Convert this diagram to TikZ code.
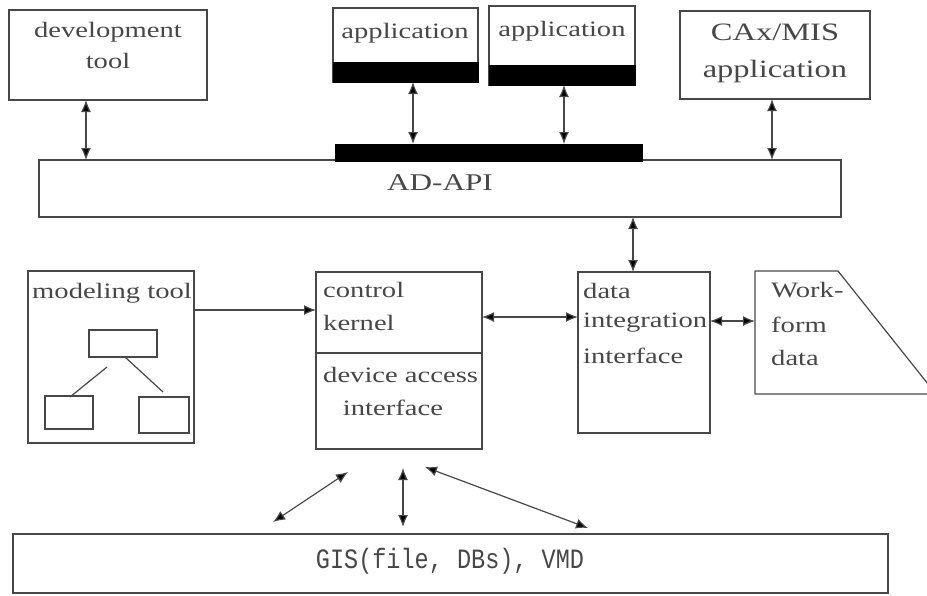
\documentclass[tikz,border=0pt]{standalone}
\usepackage{fontspec}
\usetikzlibrary{arrows.meta}
\newfontfamily\lblfont[FakeStretch=1.3]{Liberation Serif}
\newfontfamily\gisfont[FakeStretch=0.84]{Liberation Mono}
\definecolor{ink}{gray}{0.28}
\tikzset{
  box/.style={draw=ink, line width=1.2pt, inner sep=0pt, outer sep=0pt, anchor=north west, fill=white},
  bar/.style={fill=black, draw=black, line width=0.6pt, inner sep=0pt, outer sep=0pt, anchor=north west},
  lbl/.style={text=ink, inner sep=0pt, font=\lblfont\fontsize{22}{26}\selectfont},
  lblbig/.style={text=ink, inner sep=0pt, font=\lblfont\fontsize{25}{29}\selectfont},
  tip/.style={Latex[length=12pt,width=10pt]},
  dbl/.style={draw=ink, line width=1.2pt, {Latex[length=12pt,width=10pt,fill=black]}-{Latex[length=12pt,width=10pt,fill=black]}},
  sgl/.style={draw=ink, line width=1.2pt, -{Latex[length=12pt,width=10pt,fill=black]}},
  thin/.style={draw=ink, line width=1.2pt}
}
\begin{document}
\begin{tikzpicture}[x=1pt,y=-1pt]
\useasboundingbox (0,0) rectangle (927,595);

% column and row guides for connectors
\coordinate (cdev) at (86,0);
\coordinate (capp1) at (413,0);
\coordinate (capp2) at (564,0);
\coordinate (ccax) at (772,0);
\coordinate (cdata) at (633,0);
\coordinate (rmod) at (0,310);
\coordinate (rker) at (0,317);
\coordinate (rwf) at (0,321);

% top row
\node[box, minimum width=198pt, minimum height=90pt] (devtool) at (9,10) {};
\node[lbl, anchor=base] (devtoolA) at (108,37) {development};
\node[lbl, anchor=base] (devtoolB) at (108,68) {tool};

\node[box, minimum width=145pt, minimum height=74pt] (app1) at (333,8) {};
\node[bar, minimum width=145pt, minimum height=20pt] (bar1) at (333,62) {};
\node[lbl, anchor=base] (app1t) at (405,38) {application};

\node[box, minimum width=146pt, minimum height=79pt] (app2) at (489,6) {};
\node[bar, minimum width=146pt, minimum height=20pt] (bar2) at (489,65) {};
\node[lbl, anchor=base] (app2t) at (562,36) {application};

\node[box, minimum width=190pt, minimum height=88pt] (cax) at (680,11) {};
\node[lblbig, anchor=base] (caxA) at (775,40) {CAx/MIS};
\node[lblbig, anchor=base] (caxB) at (775,77) {application};

% API layer
\node[box, minimum width=802pt, minimum height=57pt] (api) at (39,160) {};
\node[bar, minimum width=307pt, minimum height=17pt] (apibar) at (335,144) {};
\node[lbl, anchor=base, font=\lblfont\fontsize{24}{28}\selectfont] (apit) at (440,190) {AD-API};

% modeling tool
\node[box, minimum width=166pt, minimum height=172pt] (model) at (28,271) {};
\node[lbl, anchor=base west] (modelt) at (32,298) {modeling tool};
\node[box, minimum width=68pt, minimum height=27pt] (m1) at (89,330) {};
\node[box, minimum width=48pt, minimum height=33pt] (m2) at (45,396) {};
\node[box, minimum width=50pt, minimum height=36pt] (m3) at (139,397) {};
\coordinate (m1a) at (107,367);
\coordinate (m2a) at (70,397);
\coordinate (m1b) at (125,357);
\coordinate (m3b) at (163,392);
\draw[thin] (m1a) -- (m2a);
\draw[thin] (m1b) -- (m3b);

% control kernel / device access interface
\node[box, minimum width=166pt, minimum height=177pt] (control) at (316,272) {};
\coordinate (rdiv) at (0,353);
\draw[thin] (control.west |- rdiv) -- (control.east |- rdiv);
\node[lbl, anchor=base west] (ctlA) at (323,297) {control};
\node[lbl, anchor=base west] (ctlB) at (323,330) {kernel};
\node[lbl, anchor=base west] (ctlC) at (323,382) {device access};
\node[lbl, anchor=base] (ctlD) at (393,415) {interface};

% data integration interface
\node[box, minimum width=132pt, minimum height=161pt] (data) at (578,272) {};
\node[lbl, anchor=base west] (dataA) at (583,298) {data};
\node[lbl, anchor=base west] (dataB) at (583,327) {integration};
\node[lbl, anchor=base west] (dataC) at (583,363) {interface};

% work-form data (card shape running off the right edge)
\begin{scope}
  \clip (0,0) rectangle (927,595);
  \draw[thin, line join=bevel] (755,271) -- (838,271) -- (936,394) -- (755,394) -- cycle;
\end{scope}
\coordinate (wfW) at (755,321);
\node[lbl, anchor=base west] (wfA) at (771,297) {Work-};
\node[lbl, anchor=base west] (wfB) at (771,332) {form};
\node[lbl, anchor=base west] (wfC) at (771,365) {data};

% resources
\node[box, minimum width=875pt, minimum height=59pt] (gis) at (13,534) {};
\node[text=ink, inner sep=0pt, anchor=base, font=\gisfont\fontsize{28}{32}\selectfont] (gist) at (450,568) {GIS(file, DBs), VMD};

% connectors
\draw[dbl] (devtool.south -| cdev) -- (api.north -| cdev);
\draw[dbl] (bar1.south -| capp1) -- (apibar.north -| capp1);
\draw[dbl] (bar2.south -| capp2) -- (apibar.north -| capp2);
\draw[dbl] (cax.south -| ccax) -- (api.north -| ccax);
\draw[dbl] (api.south -| cdata) -- (data.north -| cdata);
\draw[sgl] (model.east |- rmod) -- (control.west |- rmod);
\draw[dbl] (control.east |- rker) -- (data.west |- rker);
\draw[dbl] (data.east |- rwf) -- (wfW);

\coordinate (b1s) at (273,522);
\coordinate (b1e) at (348,472);
\coordinate (b2s) at (403,527);
\coordinate (b2e) at (403,468);
\coordinate (b3s) at (588,528);
\coordinate (b3e) at (425,467);
\draw[dbl] (b1s) -- (b1e);
\draw[dbl] (b2s) -- (b2e);
\draw[dbl] (b3s) -- (b3e);
\end{tikzpicture}
\end{document}
